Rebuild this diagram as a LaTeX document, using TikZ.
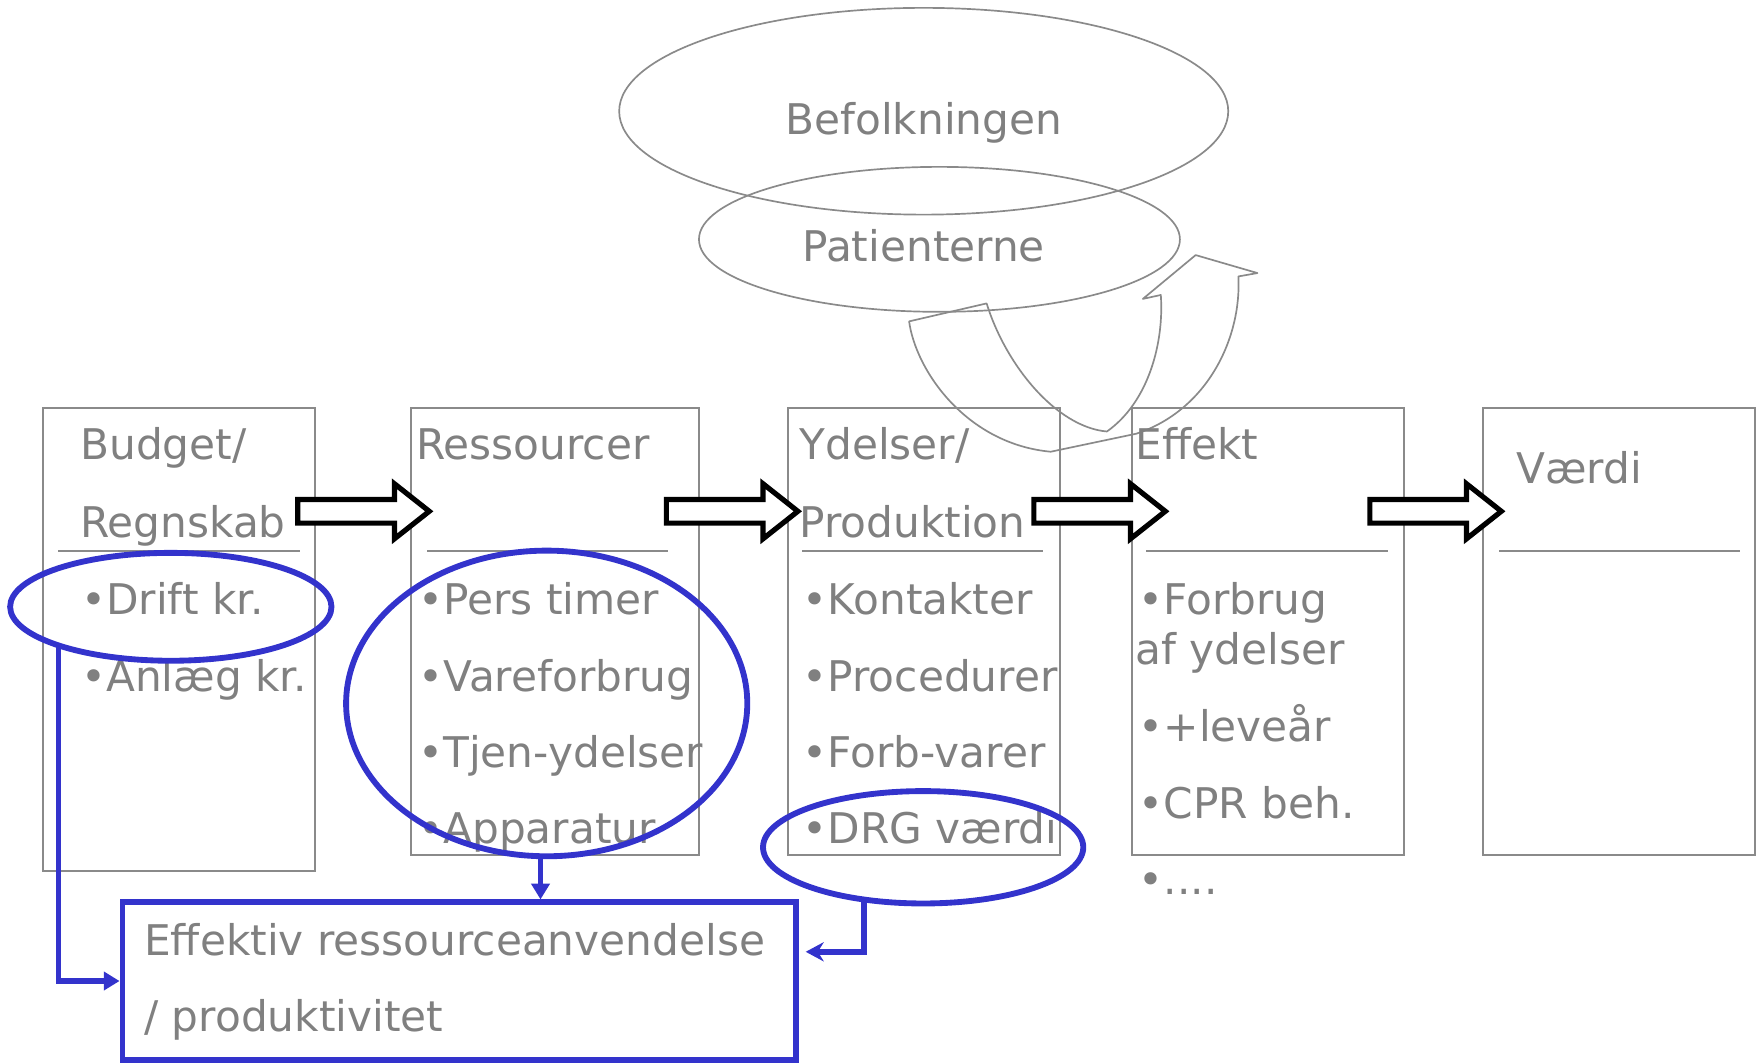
\documentclass[tikz,border=0pt]{standalone}
\usepackage{fontspec}
\setmainfont{DejaVu Sans}
\usetikzlibrary{shapes.geometric,arrows.meta}
\definecolor{txtgray}{RGB}{128,128,128}
\definecolor{linegray}{RGB}{138,138,138}
\definecolor{myblue}{RGB}{51,51,204}
\begin{document}
\begin{tikzpicture}[x=0.5pt,y=-0.5pt,
  stage/.style={draw=linegray,line width=0.9pt,rectangle,inner sep=0pt,minimum width=121pt,minimum height=199pt},
  sepline/.style={draw=linegray,line width=0.9pt},
  lbl/.style={text=txtgray,font=\fontsize{18.8}{22}\selectfont,anchor=base west,inner sep=0pt},
  clbl/.style={text=txtgray,font=\fontsize{18.8}{22}\selectfont,anchor=base,inner sep=0pt},
  pell/.style={ellipse,draw=linegray,line width=0.75pt,inner sep=0pt},
  bell/.style={ellipse,draw=myblue,line width=2.6pt,inner sep=0pt},
  bline/.style={draw=myblue,line width=2.5pt},
  curvy/.style={draw=linegray,line width=0.75pt,line join=round},
  blockarr/.pic={\draw[black,line width=2.3pt,line join=miter,fill=white]
     (0,-10.5) -- (86,-10.5) -- (86,-24.5) -- (117,0) -- (86,24.5) -- (86,10.5) -- (0,10.5) -- cycle;}
]
\useasboundingbox (0,0) rectangle (1568,946);

% top ellipses
\node[pell,minimum width=271pt,minimum height=92pt] (bef) at (822,99) {};
\node[pell,minimum width=214pt,minimum height=64.5pt] (pat) at (836,213) {};
\node[clbl] (beft) at (822,120) {Befolkningen};
\node[clbl] (patt) at (822,233) {Patienterne};

% stage boxes
\node[stage,minimum height=206pt] (b1) at (159.5,569) {};
\node[stage,minimum width=128pt] (b2) at (494,562) {};
\node[stage] (b3) at (822,562) {};
\node[stage] (b4) at (1128,562) {};
\node[stage] (b5) at (1441,562) {};

\draw[sepline] (52,490) -- (267,490);
\draw[sepline] (380,490) -- (594,490);
\draw[sepline] (714,490) -- (928,490);
\draw[sepline] (1020,490) -- (1235,490);
\draw[sepline] (1334,490) -- (1548,490);

% curved arrow
\draw[curvy] (809,286) .. controls (815,330) and (860,395) .. (935,402)
  -- (1011,386) .. controls (1075,365) and (1105,300) .. (1102,246)
  -- (1119,243) -- (1064,227) -- (1017,266) -- (1033,262.5)
  .. controls (1036,305) and (1022,358) .. (985,384)
  .. controls (940,380) and (895,325) .. (878,270) -- cycle;

% box texts
\node[lbl] (t1a) at (71,409) {Budget/};
\node[lbl] (t1b) at (71,478) {Regnskab};
\node[lbl] (t1c) at (72,546.5) {•Drift kr.};
\node[lbl] (t1d) at (72,615) {•Anlæg kr.};

\node[lbl] (t2a) at (370,409) {Ressourcer};
\node[lbl] (t2b) at (372,546.5) {•Pers timer};
\node[lbl] (t2c) at (372,615) {•Vareforbrug};
\node[lbl] (t2d) at (372,683) {•Tjen-ydelser};
\node[lbl] (t2e) at (372,751) {•Apparatur};

\node[lbl] (t3a) at (711,409) {Ydelser/};
\node[lbl] (t3b) at (711,478) {Produktion};
\node[lbl] (t3c) at (714,546.5) {•Kontakter};
\node[lbl] (t3d) at (714,615) {•Procedurer};
\node[lbl] (t3e) at (714,683) {•Forb-varer};
\node[lbl] (t3f) at (714,751) {•DRG værdi};

\node[lbl] (t4a) at (1010,409) {Effekt};
\node[lbl] (t4b) at (1013,546.5) {•Forbrug};
\node[lbl] (t4c) at (1010,591.5) {af ydelser};
\node[lbl] (t4d) at (1013,659.5) {•+leveår};
\node[lbl] (t4e) at (1013,728) {•CPR beh.};
\node[lbl] (t4f) at (1013,796) {•....};

\node[lbl] (t5a) at (1349,430) {Værdi};

% block arrows
\pic at (265,455) {blockarr};
\pic at (593,455) {blockarr};
\pic at (920,455) {blockarr};
\pic at (1219,455) {blockarr};

% blue result box
\node[draw=myblue,line width=2.6pt,rectangle,inner sep=0pt,minimum width=299.5pt,minimum height=70pt] (eff) at (408.5,873) {};
\node[lbl] (efft1) at (128,850) {Effektiv ressourceanvendelse};
\node[lbl] (efft2) at (128,918) {/ produktivitet};

% blue ellipses
\node[bell,minimum width=143pt,minimum height=48pt] (e1) at (152,540) {};
\node[bell,minimum width=178.5pt,minimum height=136pt] (e2) at (486.5,626) {};
\node[bell,minimum width=142.5pt,minimum height=50pt] (e3) at (821.5,754) {};

% blue connectors
\coordinate (c1s) at (52,574);
\coordinate (c2s) at (481,762);
\coordinate (c3s) at (769,800);
\coordinate (c3e) at (717,847);
\draw[bline,-{Triangle[length=7pt,width=8pt]}] (c1s) |- (eff.west);
\draw[bline,-{Triangle[length=7pt,width=8pt]}] (c2s) -- (c2s |- eff.north);
\draw[bline,-{Stealth[length=8pt,width=8.5pt]}] (c3s) |- (c3e);
\end{tikzpicture}
\end{document}
